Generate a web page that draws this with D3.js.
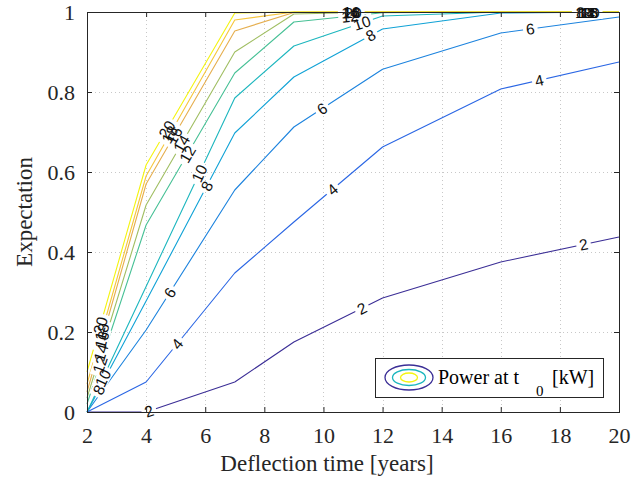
<!DOCTYPE html>
<html>
<head>
<meta charset="utf-8">
<script src="https://cdn.jsdelivr.net/npm/d3@7/dist/d3.min.js"></script>
<style>
  html, body { margin: 0; padding: 0; background: #fff; }
  svg { display: block; }
</style>
</head>
<body>
<svg id="chart" width="641" height="481"></svg>
<script>
// Contour levels (power at t0, kW) and their colours
const levels = [2, 4, 6, 8, 10, 12, 14, 16, 18, 20];
const levelColors = ["#3b2e96", "#2a66e4", "#1c83de", "#10a2d6", "#1cb6be",
                     "#46c095", "#a0be62", "#e5ae4e", "#f6c63b", "#f4f40f"];

// Contour paths: [deflection time (years), expectation]
const line2  = [[2,0],[4,0],[7,0.075],[9,0.175],[12,0.285],[16,0.375],[20,0.4375]];
const line4  = [[2,0],[4,0.075],[7,0.3475],[9,0.475],[12,0.6625],[16,0.8075],[20,0.875]];
const line6  = [[2,0],[4,0.205],[7,0.555],[9,0.7125],[12,0.857],[16,0.9475],[20,0.9875]];
const line8  = [[2,0],[4,0.2775],[7,0.6975],[9,0.8375],[12,0.9575],[16,0.9975],[20,1]];
const line10 = [[2,0],[4,0.314],[7,0.785],[9,0.915],[12,0.99],[16,1],[20,1]];
const line12 = [[2,0.02],[4,0.4675],[7,0.8475],[9,0.975],[12,0.998],[16,1],[20,1]];
const line14 = [[2,0.035],[4,0.5175],[7,0.9],[9,0.995],[12,1],[20,1]];
const line16 = [[2,0.05],[4,0.57],[7,0.9525],[9,0.999],[12,1],[20,1]];
const line18 = [[2,0.07],[4,0.59],[7,0.98],[9,1],[20,1]];
const line20 = [[2,0.1],[4,0.6175],[7,0.9975],[9,1],[20,1]];
const contourLines = [line2, line4, line6, line8, line10, line12, line14, line16, line18, line20];

// Where along each contour (deflection time) its inline labels sit
const labelAt2  = [4.1, 11.3, 18.8];
const labelAt4  = [5.05, 10.3, 17.3];
const labelAt6  = [4.8, 9.95, 17.0];
const labelAt8  = [2.4, 6.05, 11.6, 18.7];
const labelAt10 = [2.54, 5.8, 11.3, 18.8];
const labelAt12 = [2.44, 5.4, 10.9, 18.9];
const labelAt14 = [2.47, 5.2, 10.9, 18.9];
const labelAt16 = [2.5, 4.95, 10.95, 19.0];
const labelAt18 = [2.5, 4.8, 10.95, 19.0];
const labelAt20 = [2.45, 4.7, 11.0, 19.05];
const labelPositions = [labelAt2, labelAt4, labelAt6, labelAt8, labelAt10,
                        labelAt12, labelAt14, labelAt16, labelAt18, labelAt20];

// Axes
const xDomain = [2, 20];
const yDomain = [0, 1];
const xTickValues = [2, 4, 6, 8, 10, 12, 14, 16, 18, 20];
const yTickValues = [0, 0.2, 0.4, 0.6, 0.8, 1];
const yTickLabels = ["0", "0.2", "0.4", "0.6", "0.8", "1"];
const xTitle = "Deflection time [years]";
const yTitle = "Expectation";

const svg = d3.select("#chart");
const plotL = 87, plotR = 619, plotT = 12, plotB = 412;
const x = d3.scaleLinear(xDomain, [plotL, plotR]);
const y = d3.scaleLinear(yDomain, [plotB, plotT]);
const serif = "'Liberation Serif', 'Times New Roman', serif";
const sans = "'Liberation Sans', Arial, Helvetica, sans-serif";
const ink = "#262626";

// plot background
svg.append("rect").attr("x", plotL).attr("y", plotT)
  .attr("width", plotR - plotL).attr("height", plotB - plotT).attr("fill", "#fff");

// dotted grid
const grid = svg.append("g").attr("stroke", "#c8c8c8").attr("stroke-width", 1)
  .attr("stroke-dasharray", "1,3");
grid.selectAll("line.gx").data(xTickValues.slice(1, -1)).join("line")
  .attr("x1", d => Math.round(x(d)) + 0.5).attr("x2", d => Math.round(x(d)) + 0.5)
  .attr("y1", plotT).attr("y2", plotB);
grid.selectAll("line.gy").data(yTickValues.slice(1, -1)).join("line")
  .attr("y1", d => Math.round(y(d)) + 0.5).attr("y2", d => Math.round(y(d)) + 0.5)
  .attr("x1", plotL).attr("x2", plotR);

// inline label geometry: point and direction along a path at a given x
function pointAt(path, xv) {
  for (let i = 0; i < path.length - 1; i++) {
    const [x0, y0] = path[i], [x1, y1] = path[i + 1];
    if (xv >= x0 && xv <= x1) {
      const t = (xv - x0) / (x1 - x0);
      const yv = y0 + t * (y1 - y0);
      const ang = Math.atan2(y(y1) - y(y0), x(x1) - x(x0)) * 180 / Math.PI;
      return { px: x(xv), py: y(yv), ang };
    }
  }
  return null;
}

const defs = svg.append("defs");
const mask = defs.append("mask").attr("id", "labelGaps")
  .attr("maskUnits", "userSpaceOnUse").attr("x", 0).attr("y", 0)
  .attr("width", 641).attr("height", 481);
mask.append("rect").attr("width", 641).attr("height", 481).attr("fill", "#fff");

const linesG = svg.append("g").attr("mask", "url(#labelGaps)");
const labelsG = svg.append("g");

const lineGen = d3.line().x(d => x(d[0])).y(d => y(d[1]));

levels.forEach((lev, i) => {
  linesG.append("path").datum(contourLines[i])
    .attr("d", lineGen).attr("fill", "none")
    .attr("stroke", levelColors[i]).attr("stroke-width", 1.1)
    .attr("stroke-linejoin", "round");
  labelPositions[i].forEach(xv => {
    const p = pointAt(contourLines[i], xv);
    if (!p) return;
    const t = labelsG.append("text")
      .attr("transform", `translate(${p.px},${p.py}) rotate(${p.ang})`)
      .attr("text-anchor", "middle").attr("dy", "0.36em")
      .attr("font-family", sans).attr("font-size", 15.5).attr("fill", "#111")
      .text(String(lev));
    const w = t.node().getComputedTextLength();
    mask.append("rect")
      .attr("x", -w / 2 - 3).attr("y", -7).attr("width", w + 6).attr("height", 14)
      .attr("transform", `translate(${p.px},${p.py}) rotate(${p.ang})`)
      .attr("fill", "#000");
  });
});

// axes with inward ticks on all four sides
const axisG = svg.append("g");
const bottomAxis = d3.axisBottom(x).tickValues(xTickValues).tickSize(-5).tickPadding(15)
  .tickFormat(d3.format("d"));
const leftAxis = d3.axisLeft(y).tickValues(yTickValues).tickSize(-5).tickPadding(12)
  .tickFormat((d, i) => yTickLabels[i]);
const topAxis = d3.axisTop(x).tickValues(xTickValues).tickSize(-5).tickFormat("");
const rightAxis = d3.axisRight(y).tickValues(yTickValues).tickSize(-5).tickFormat("");

function styleAxis(g) {
  g.select(".domain").remove();
  g.selectAll(".tick line").attr("stroke", ink);
  g.selectAll(".tick text").attr("font-family", serif).attr("font-size", 22)
    .attr("fill", ink);
}
axisG.append("g").attr("transform", `translate(0,${plotB})`).call(bottomAxis).call(styleAxis);
axisG.append("g").attr("transform", `translate(${plotL},0)`).call(leftAxis).call(styleAxis);
axisG.append("g").attr("transform", `translate(0,${plotT})`).call(topAxis).call(styleAxis);
axisG.append("g").attr("transform", `translate(${plotR},0)`).call(rightAxis).call(styleAxis);
axisG.append("rect").attr("x", plotL + 0.5).attr("y", plotT + 0.5)
  .attr("width", plotR - plotL).attr("height", plotB - plotT)
  .attr("fill", "none").attr("stroke", ink).attr("stroke-width", 1);

// axis titles
svg.append("text").attr("x", 327).attr("y", 471)
  .attr("text-anchor", "middle").attr("font-family", serif).attr("font-size", 23)
  .attr("fill", ink).text(xTitle);
svg.append("text").attr("transform", `translate(32,${(plotT + plotB) / 2}) rotate(-90)`)
  .attr("text-anchor", "middle").attr("font-family", serif).attr("font-size", 23)
  .attr("fill", ink).text(yTitle);

// legend with contour glyph
const lg = svg.append("g");
lg.append("rect").attr("x", 375.5).attr("y", 358.5).attr("width", 228).attr("height", 39)
  .attr("fill", "#fff").attr("stroke", ink).attr("stroke-width", 1);
const iconLevels = [0, 4, 9];
const iconR = [[24, 12.5], [16.5, 8], [8.5, 4.5]];
iconLevels.forEach((li, k) => {
  lg.append("ellipse").attr("cx", 409).attr("cy", 377.5)
    .attr("rx", iconR[k][0]).attr("ry", iconR[k][1])
    .attr("fill", "none").attr("stroke", levelColors[li]).attr("stroke-width", 1.3);
});
lg.append("text").attr("x", 438).attr("y", 384).attr("font-family", serif)
  .attr("font-size", 20).attr("fill", "#000").text("Power at t");
lg.append("text").attr("x", 536).attr("y", 396).attr("font-family", serif)
  .attr("font-size", 15).attr("fill", "#000").text("0");
lg.append("text").attr("x", 552).attr("y", 384).attr("font-family", serif)
  .attr("font-size", 20).attr("fill", "#000").text("[kW]");
</script>
</body>
</html>
